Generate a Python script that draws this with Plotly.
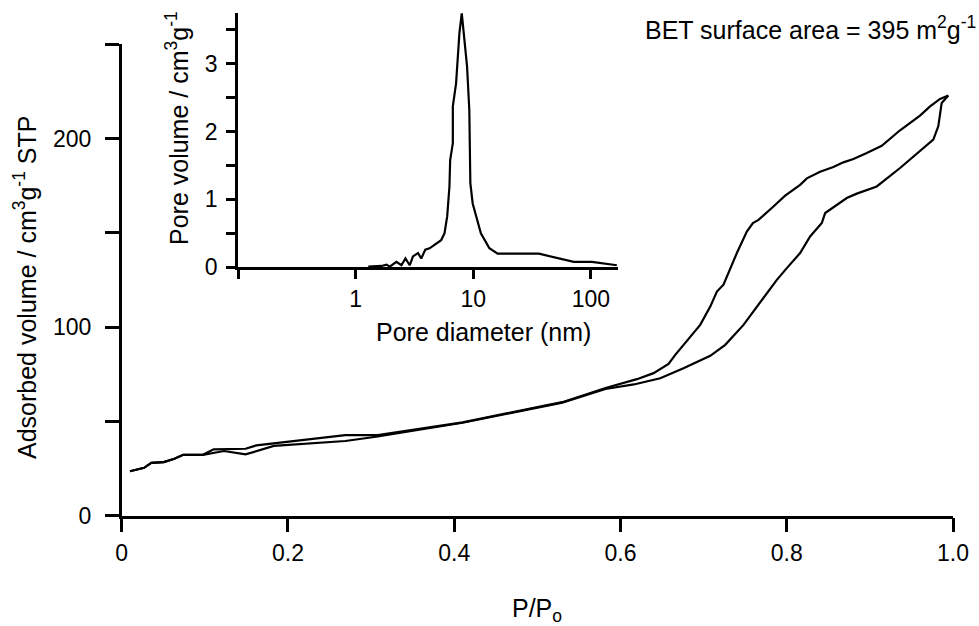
import plotly.graph_objects as go

# nitrogen isotherm
ads_p = [0.0099, 0.027, 0.0356, 0.0506, 0.0634, 0.074, 0.0977, 0.123, 0.149, 0.183, 0.269, 0.308,
         0.41, 0.509, 0.53, 0.582, 0.616, 0.6478, 0.6758, 0.708, 0.726, 0.748, 0.764, 0.7761,
         0.7881, 0.8001, 0.8161, 0.8281, 0.8422, 0.8462, 0.8522, 0.8722, 0.8843, 0.8963, 0.9083,
         0.9363, 0.9603, 0.9763, 0.9823, 0.9844, 0.9864, 0.9944]
ads_v = [23.6, 25.4, 28.0, 28.4, 30.2, 32.3, 32.3, 34.3, 32.5, 37.0, 39.6, 42.0,
         49.3, 58.0, 60.0, 67.2, 69.6, 72.9, 78.2, 84.8, 90.6, 101.2, 110.9, 118.0,
         125.1, 131.3, 139.3, 148.1, 155.2, 160.5, 162.3, 168.5, 170.8, 172.5, 174.6,
         184.4, 193.2, 199.4, 206.5, 213.6, 218.9, 222.8]

des_p = [0.9944, 0.9844, 0.9724, 0.9603, 0.9363, 0.9143, 0.8963, 0.8802, 0.8681, 0.8561, 0.8401,
         0.8242, 0.8161, 0.7981, 0.784, 0.766, 0.7593, 0.752, 0.74, 0.73, 0.7239, 0.716, 0.708,
         0.6959, 0.6839, 0.6659, 0.6578, 0.6398, 0.6198, 0.582, 0.53, 0.509, 0.41, 0.308, 0.269,
         0.162, 0.149, 0.1106, 0.0977, 0.074, 0.0634, 0.0506, 0.0356, 0.027, 0.0099]
des_v = [222.8, 221.0, 217.1, 212.2, 204.4, 196.2, 192.4, 189.2, 187.4, 184.9, 182.4,
         178.9, 175.5, 169.7, 164.0, 156.9, 155.2, 150.7, 139.3, 128.7, 122.5, 118.9, 110.9,
         101.2, 95.0, 85.3, 80.5, 75.6, 72.4, 67.7, 60.2, 58.4, 49.5, 42.7, 42.7,
         37.3, 35.5, 35.2, 32.3, 32.3, 30.2, 28.4, 28.0, 25.4, 23.6]

# pore size distribution (inset)
pore_d = [1.28, 1.66, 1.83, 1.95, 2.22, 2.45, 2.65, 2.88, 3.07, 3.39, 3.61, 3.91, 4.25, 4.68,
          5.33, 5.69, 6.0, 6.27, 6.36, 6.7, 6.7, 7.14, 7.47, 7.62, 7.98, 8.4, 8.85, 9.25,
          9.44, 9.88, 11.6, 13.7, 16.1, 36.1, 71.4, 102, 166]
pore_v = [0.01, 0.02, 0.04, 0.01, 0.08, 0.03, 0.13, 0.03, 0.16, 0.21, 0.13, 0.26, 0.28, 0.33,
          0.40, 0.50, 0.75, 1.19, 1.58, 1.83, 2.37, 2.71, 3.2, 3.45, 3.74, 3.4, 2.96, 2.32,
          1.24, 0.94, 0.5, 0.28, 0.2, 0.2, 0.08, 0.08, 0.03]

x_ticks = [0, 0.2, 0.4, 0.6, 0.8, 1.0]
x_labels = ['0', '0.2', '0.4', '0.6', '0.8', '1.0']
y_ticks = [0, 50, 100, 150, 200, 250]
y_labels = ['0', '', '100', '', '200', '']
in_x_ticks = [0.1, 1, 10, 100]
in_x_labels = ['', '1', '10', '100']
in_y_ticks = [0, 0.5, 1, 1.5, 2, 2.5, 3, 3.5]
in_y_labels = ['0', '', '1', '', '2', '', '3', '']

W, H = 979, 626
FONT = 'Liberation Sans, Arial, sans-serif'
TICK_FS = 23
TITLE_FS = 25


def px(x):
    return x / W


def py(y):
    return 1 - y / H


fig = go.Figure()
line = dict(color='black', width=2.2)
fig.add_trace(go.Scatter(x=ads_p, y=ads_v, mode='lines', line=line, xaxis='x', yaxis='y'))
fig.add_trace(go.Scatter(x=des_p, y=des_v, mode='lines', line=line, xaxis='x', yaxis='y'))
fig.add_trace(go.Scatter(x=pore_d, y=pore_v, mode='lines', line=line, xaxis='x2', yaxis='y2'))

ax = dict(showline=True, linecolor='black', linewidth=2.5, ticks='outside', ticklen=14,
          tickwidth=2.5, tickcolor='black', showgrid=False, zeroline=False, automargin=False,
          tickfont=dict(family=FONT, size=TICK_FS, color='black'))

fig.update_layout(
    width=W, height=H, showlegend=False,
    margin=dict(l=0, r=0, t=0, b=0),
    paper_bgcolor='white', plot_bgcolor='rgba(0,0,0,0)',
    xaxis=dict(ax, domain=[px(121.7), px(953)], range=[0, 1], tickvals=x_ticks, ticktext=x_labels,
               anchor='y', ticklabelstandoff=1),
    yaxis=dict(ax, domain=[py(515.7), py(44.3)], range=[0, 250], tickvals=y_ticks, ticktext=y_labels,
               anchor='x', ticklabelstandoff=9),
    xaxis2=dict(ax, domain=[px(238), px(618)], type='log', range=[-1, 2.23], tickvals=in_x_ticks,
                ticktext=in_x_labels, anchor='y2', ticklen=9, ticklabelstandoff=0),
    yaxis2=dict(ax, domain=[py(267.3), py(12.7)], range=[0, 3.75], tickvals=in_y_ticks,
                ticktext=in_y_labels, anchor='x2', ticklen=9, ticklabelstandoff=4),
)


def label(text, x, y, angle=0, xanchor='center', size=TITLE_FS):
    fig.add_annotation(text=text, x=px(x), y=py(y), xref='paper', yref='paper', showarrow=False,
                       textangle=angle, xanchor=xanchor, yanchor='middle',
                       font=dict(family=FONT, size=size, color='black'))


label('P/P<sub>o</sub>', 537, 610)
label('Adsorbed volume / cm<sup>3</sup>g<sup>-1</sup> STP', 25, 287, angle=-90)
label('Pore diameter (nm)', 483, 332)
label('Pore volume / cm<sup>3</sup>g<sup>-1</sup>', 177, 128, angle=-90)
label('BET surface area = 395 m<sup>2</sup>g<sup>-1</sup>', 978, 28, xanchor='right')

# drop the default page margin so the figure sits at the top-left corner
fig.write_html('out.html', config={'displayModeBar': False},
               post_script="document.body.style.margin='0px';"
                           "document.body.style.overflow='hidden';")
